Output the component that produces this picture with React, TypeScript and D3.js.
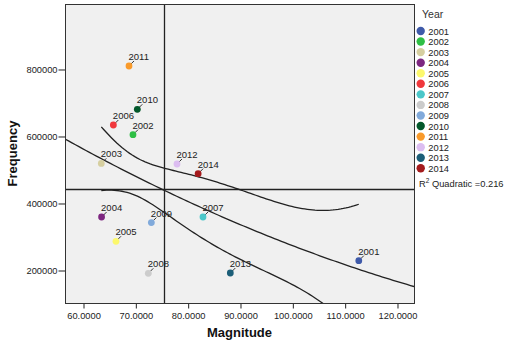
import React, { useEffect, useRef } from 'react';
import * as d3 from 'd3';

const years = ['2001', '2002', '2003', '2004', '2005', '2006', '2007', '2008', '2009', '2010', '2011', '2012', '2013', '2014'];
const magnitude = [112.7, 69.55, 63.5, 63.55, 66.3, 65.8, 82.93, 72.48, 73.06, 70.38, 68.79, 77.96, 88.15, 82.0];
const frequency = [227800, 603900, 518200, 358200, 285700, 632800, 358200, 190100, 341500, 679700, 809000, 516400, 191000, 487500];
const yearColors = ['#3f5aa9', '#2fbf45', '#d6cfa0', '#7d2680', '#fcf86c', '#f0383c', '#4bc7c9', '#cccccc', '#81aadb', '#03582b', '#f99a2a', '#dcbdf1', '#1c5e78', '#a41a1c'];
const xTicks = [60, 70, 80, 90, 100, 110, 120];
const yTicks = [200000, 400000, 600000, 800000];
const rSquaredLabel = '0.216';
const bandMultiplier = 1.05; // width of the band around the fit, in standard errors

const FONT = '"Liberation Sans", Arial, sans-serif';

// quadratic least squares plus a band of the mean prediction
function quadraticFit(xs: number[], ys: number[]) {
  const n = xs.length;
  const xm = d3.mean(xs)!;
  const rows = xs.map(x => [1, x - xm, (x - xm) * (x - xm)]);
  const XtX = [0, 1, 2].map(i => [0, 1, 2].map(j => d3.sum(rows, r => r[i] * r[j])));
  const Xty = [0, 1, 2].map(i => d3.sum(rows, (r, k) => r[i] * ys[k]));
  const inv = invert3(XtX);
  const b = [0, 1, 2].map(i => d3.sum([0, 1, 2], j => inv[i][j] * Xty[j]));
  const pred = (x: number) => b[0] + b[1] * (x - xm) + b[2] * (x - xm) * (x - xm);
  const sse = d3.sum(xs, (x, k) => (ys[k] - pred(x)) ** 2);
  const s = Math.sqrt(sse / (n - 3));
  const se = (x: number) => {
    const v = [1, x - xm, (x - xm) * (x - xm)];
    let q = 0;
    for (let i = 0; i < 3; i++) for (let j = 0; j < 3; j++) q += v[i] * inv[i][j] * v[j];
    return s * Math.sqrt(q);
  };
  return {
    pred,
    lo: (x: number) => pred(x) - bandMultiplier * se(x),
    hi: (x: number) => pred(x) + bandMultiplier * se(x),
  };
}

function invert3(m: number[][]) {
  const [[a, b, c], [d, e, f], [g, h, i]] = m;
  const A = e * i - f * h, B = -(d * i - f * g), C = d * h - e * g;
  const det = a * A + b * B + c * C;
  return [
    [A / det, -(b * i - c * h) / det, (b * f - c * e) / det],
    [B / det, (a * i - c * g) / det, -(a * f - c * d) / det],
    [C / det, -(a * h - b * g) / det, (a * e - b * d) / det],
  ];
}

const ScatterChart: React.FC = () => {
  const svgRef = useRef<SVGSVGElement>(null);

  useEffect(() => {
    if (!svgRef.current) return;
    const width = 507;
    const height = 343;
    const plot = { left: 65, right: 414, top: 4, bottom: 303 };

    const svg = d3.select(svgRef.current).attr('width', width).attr('height', height);
    svg.selectAll('*').remove();

    svg.append('rect').attr('width', width).attr('height', height).style('fill', 'white');

    const x = d3.scaleLinear().domain([56.56, 123.25]).range([plot.left, plot.right]);
    const y = d3.scaleLinear().domain([101500, 994000]).range([plot.bottom, plot.top]);

    svg.append('defs').append('clipPath').attr('id', 'plotclip')
      .append('rect')
      .attr('x', plot.left).attr('y', plot.top)
      .attr('width', plot.right - plot.left).attr('height', plot.bottom - plot.top);

    svg.append('rect')
      .attr('x', plot.left + 0.5).attr('y', plot.top + 0.5)
      .attr('width', plot.right - plot.left).attr('height', plot.bottom - plot.top)
      .style('fill', '#f0f0f0');

    // axes
    const xAxis = svg.append('g')
      .attr('transform', `translate(0.5,${plot.bottom + 0.5})`)
      .call(d3.axisBottom(x).tickValues(xTicks).tickFormat(d => (d as number).toFixed(4)).tickSize(5).tickPadding(4).tickSizeOuter(0));
    xAxis.select('.domain').remove();

    const yAxis = svg.append('g')
      .attr('transform', `translate(${plot.left + 0.5},0.5)`)
      .call(d3.axisLeft(y).tickValues(yTicks).tickFormat(d => String(d)).tickSize(7).tickPadding(1).tickSizeOuter(0));
    yAxis.select('.domain').remove();

    svg.selectAll('.tick text').style('font-family', FONT).style('font-size', '9.3px').style('fill', '#222');
    svg.selectAll('.tick line').style('stroke', '#222');

    // fit curves
    const fit = quadraticFit(magnitude, frequency);
    const [xMin, xMax] = d3.extent(magnitude) as [number, number];
    const curve = (f: (v: number) => number, a: number, b: number) =>
      d3.line<number>().x(v => x(v)).y(v => y(f(v)))(d3.range(0, 101).map(i => a + (b - a) * i / 100));

    const curves = svg.append('g').attr('clip-path', 'url(#plotclip)');
    [
      curve(fit.pred, x.domain()[0], x.domain()[1]),
      curve(fit.hi, xMin, xMax),
      curve(fit.lo, xMin, xMax),
    ].forEach(d => {
      curves.append('path').attr('d', d).style('fill', 'none').style('stroke', '#222').style('stroke-width', 1.3);
    });

    // mean reference lines
    const mx = d3.mean(magnitude)!;
    const my = d3.mean(frequency)!;
    svg.append('line')
      .attr('x1', Math.round(x(mx)) + 0.5).attr('x2', Math.round(x(mx)) + 0.5)
      .attr('y1', plot.top).attr('y2', plot.bottom)
      .style('stroke', '#222').style('stroke-width', 1.3);
    svg.append('line')
      .attr('x1', plot.left).attr('x2', plot.right)
      .attr('y1', Math.round(y(my)) + 0.5).attr('y2', Math.round(y(my)) + 0.5)
      .style('stroke', '#222').style('stroke-width', 1.3);

    // frame
    svg.append('rect')
      .attr('x', plot.left + 0.5).attr('y', plot.top + 0.5)
      .attr('width', plot.right - plot.left).attr('height', plot.bottom - plot.top)
      .style('fill', 'none').style('stroke', '#333').style('stroke-width', 1);

    // points with labels
    const pts = svg.append('g').selectAll('g')
      .data(years.map((yr, i) => ({ yr, mx: magnitude[i], fq: frequency[i], color: yearColors[i] })))
      .enter().append('g')
      .attr('transform', d => `translate(${x(d.mx)},${y(d.fq)})`);

    pts.append('line')
      .attr('x1', 2).attr('y1', -2).attr('x2', 5).attr('y2', -5)
      .style('stroke', '#333').style('stroke-width', 1);
    pts.append('circle').attr('r', 3.4).style('fill', d => d.color);
    pts.append('text')
      .attr('x', -0.5).attr('y', -6)
      .style('font-family', FONT).style('font-size', '9.5px').style('fill', '#222')
      .text(d => d.yr);

    // axis titles
    svg.append('text')
      .attr('x', (plot.left + plot.right) / 2).attr('y', 336.5)
      .attr('text-anchor', 'middle')
      .style('font-family', FONT).style('font-size', '13px').style('font-weight', 'bold').style('fill', '#111')
      .text('Magnitude');
    svg.append('text')
      .attr('transform', `translate(17,${(plot.top + plot.bottom) / 2}) rotate(-90)`)
      .attr('text-anchor', 'middle')
      .style('font-family', FONT).style('font-size', '13px').style('font-weight', 'bold').style('fill', '#111')
      .text('Frequency');

    // legend
    const legend = svg.append('g');
    legend.append('text')
      .attr('x', 422).attr('y', 18.3)
      .style('font-family', FONT).style('font-size', '10.5px').style('fill', '#333')
      .text('Year');
    const items = legend.selectAll('g.item')
      .data(years.map((yr, i) => ({ yr, color: yearColors[i] })))
      .enter().append('g')
      .attr('class', 'item')
      .attr('transform', (d, i) => `translate(420.7,${31 + i * 10.56})`);
    items.append('circle').attr('r', 4.2).style('fill', d => d.color);
    items.append('text')
      .attr('x', 7.6).attr('y', 3.5)
      .style('font-family', FONT).style('font-size', '9.3px').style('fill', '#222')
      .text(d => d.yr);

    const r2 = legend.append('text')
      .attr('x', 419).attr('y', 187.3)
      .style('font-family', FONT).style('font-size', '9.3px').style('fill', '#222');
    r2.append('tspan').text('R');
    r2.append('tspan').attr('dy', -4).style('font-size', '6.5px').text('2');
    r2.append('tspan').attr('dy', 4).text(` Quadratic =${rSquaredLabel}`);
  }, []);

  return <svg ref={svgRef} style={{ position: 'absolute', left: 0, top: 0 }}></svg>;
};

export default function App() {
  return (
    <div>
      <ScatterChart />
    </div>
  );
}
